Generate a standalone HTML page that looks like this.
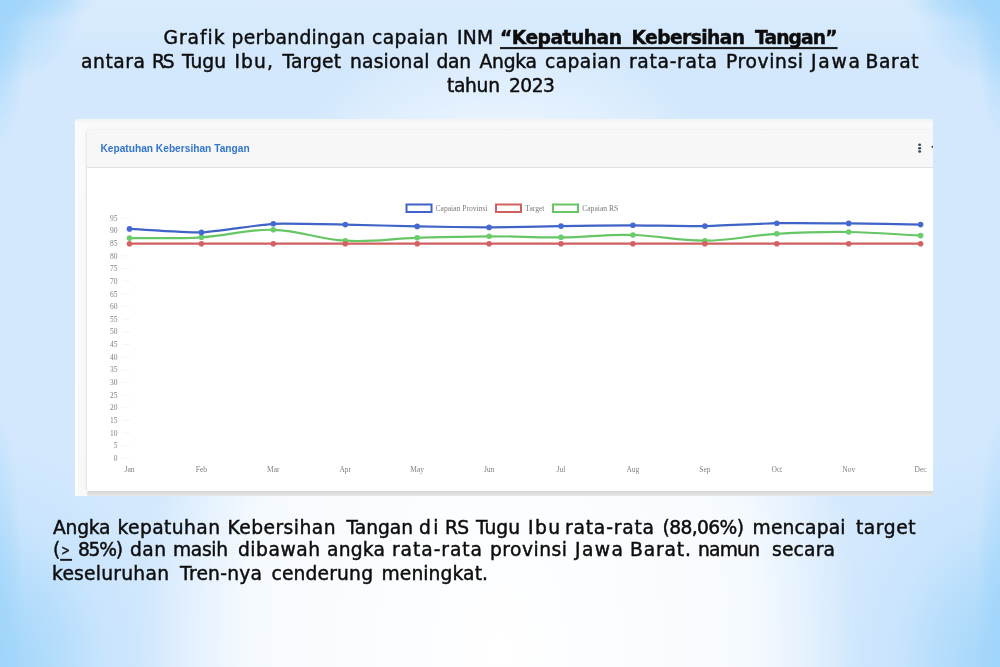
<!DOCTYPE html>
<html><head><meta charset="utf-8"><style>
html,body{margin:0;padding:0;}
body{width:1000px;height:667px;position:relative;overflow:hidden;
 background:
  radial-gradient(circle 85px at 0 0, rgba(160,213,250,1) 0%, rgba(160,213,250,0) 100%),
  radial-gradient(ellipse 28px 150px at 0 0, rgba(160,213,250,1) 0%, rgba(160,213,250,0) 100%),
  radial-gradient(ellipse 100px 25px at 0 0, rgba(160,213,250,1) 0%, rgba(160,213,250,0) 100%),
  radial-gradient(circle 85px at 100% 0, rgba(160,213,250,1) 0%, rgba(160,213,250,0) 100%),
  radial-gradient(ellipse 25px 140px at 100% 0, rgba(160,213,250,1) 0%, rgba(160,213,250,0) 100%),
  radial-gradient(ellipse 100px 25px at 100% 0, rgba(160,213,250,1) 0%, rgba(160,213,250,0) 100%),
  radial-gradient(ellipse 170px 230px at 0 100%, rgba(160,213,250,1) 0%, rgba(160,213,250,0.55) 38%, rgba(160,213,250,0.2) 62%, rgba(160,213,250,0.12) 76%, rgba(160,213,250,0.05) 90%, rgba(160,213,250,0) 100%),
  radial-gradient(ellipse 25px 260px at 0 100%, rgba(160,213,250,1) 0%, rgba(160,213,250,0.5) 50%, rgba(160,213,250,0) 100%),
  radial-gradient(ellipse 170px 230px at 100% 100%, rgba(160,213,250,1) 0%, rgba(160,213,250,0.55) 38%, rgba(160,213,250,0.2) 62%, rgba(160,213,250,0.12) 76%, rgba(160,213,250,0.05) 90%, rgba(160,213,250,0) 100%),
  radial-gradient(ellipse 25px 260px at 100% 100%, rgba(160,213,250,1) 0%, rgba(160,213,250,0.5) 50%, rgba(160,213,250,0) 100%),
  radial-gradient(ellipse 360px 640px at 500px 650px, rgba(255,255,255,1) 0%, rgba(255,255,255,.92) 23%, rgba(255,255,255,.85) 55%, rgba(255,255,255,.78) 70%, rgba(255,255,255,.4) 85%, rgba(255,255,255,.05) 97%, rgba(255,255,255,0) 100%),
  linear-gradient(to bottom, rgba(255,255,255,0.14) 0px, rgba(255,255,255,0) 60px),
  #d3e8fd;
 font-family:"DejaVu Sans","Liberation Sans",sans-serif;color:#111;}
.txt{position:absolute;left:0;top:0;}
.title{position:absolute;left:0;top:25px;width:1000px;text-align:center;font-size:18px;line-height:23.5px;}
.title u{font-weight:bold;text-decoration-thickness:1.5px;text-underline-offset:2px;}
.para{position:absolute;left:52px;top:514px;width:900px;font-size:18px;line-height:23.3px;}
.shot{position:absolute;left:75px;top:118.5px;width:858px;height:377.1px;overflow:hidden;background:linear-gradient(to bottom,#f2f2f2 0,#f6f6f6 2px,#fafafa 5px,#f8f8f8 100%);}
.shot .lw{position:absolute;left:0;top:0;width:3px;height:100%;background:linear-gradient(to bottom,#e8e8e8 0,#fdfdfd 3px,#fff 100%);}
.shot .bs{position:absolute;left:12px;top:372px;right:0;height:5.5px;border-radius:3px 0 0 3px;background:linear-gradient(to bottom,#dcdcdc 0,#dfdfdf 50%,#e6e6e6 100%);}
.card{position:absolute;left:11.8px;top:11.5px;width:900px;height:361px;background:#fff;border-radius:4px;
 box-shadow:-1px 0 2px rgba(0,0,0,0.07), 0 0 5px rgba(0,0,0,0.04);}
.hdr{position:absolute;left:0;top:0;right:0;height:37px;background:#f7f7f7;border-bottom:1px solid #e2e2e2;border-radius:5px 5px 0 0;}
.hdr .t{position:absolute;left:13.6px;top:13px;font:bold 10.2px "Liberation Sans",Arial,sans-serif;color:#3275cc;}
.chart text{font-family:"Liberation Serif",serif;}
</style></head><body>
<svg class="txt" width="1000" height="667" viewBox="0 0 1000 667" font-family="DejaVu Sans" font-size="18.7" fill="#0d0d0d" stroke="#0d0d0d" stroke-width="0.45" style="font-variant-ligatures:none"><text x="163.5" y="44.2" textLength="61.0" lengthAdjust="spacing">Grafik</text><text x="231.5" y="44.2" textLength="133.5" lengthAdjust="spacing">perbandingan</text><text x="372.0" y="44.2" textLength="76.0" lengthAdjust="spacing">capaian</text><text x="457.0" y="44.2" textLength="36.0" lengthAdjust="spacing">INM</text><text x="500.0" y="44.2" textLength="122.0" lengthAdjust="spacing" font-weight="bold">“Kepatuhan</text><text x="631.5" y="44.2" textLength="113.5" lengthAdjust="spacing" font-weight="bold">Kebersihan</text><text x="755.0" y="44.2" textLength="82.5" lengthAdjust="spacing" font-weight="bold">Tangan”</text><text x="81.0" y="67.5" textLength="64.0" lengthAdjust="spacing">antara</text><text x="152.0" y="67.5" textLength="22.5" lengthAdjust="spacing">RS</text><text x="182.0" y="67.5" textLength="44.0" lengthAdjust="spacing">Tugu</text><text x="234.5" y="67.5" textLength="38.5" lengthAdjust="spacing">Ibu,</text><text x="282.5" y="67.5" textLength="58.5" lengthAdjust="spacing">Target</text><text x="350.0" y="67.5" textLength="79.5" lengthAdjust="spacing">nasional</text><text x="436.5" y="67.5" textLength="34.5" lengthAdjust="spacing">dan</text><text x="479.5" y="67.5" textLength="57.5" lengthAdjust="spacing">Angka</text><text x="545.0" y="67.5" textLength="76.0" lengthAdjust="spacing">capaian</text><text x="629.0" y="67.5" textLength="88.0" lengthAdjust="spacing">rata-rata</text><text x="726.0" y="67.5" textLength="77.0" lengthAdjust="spacing">Provinsi</text><text x="811.0" y="67.5" textLength="49.0" lengthAdjust="spacing">Jawa</text><text x="865.5" y="67.5" textLength="53.0" lengthAdjust="spacing">Barat</text><text x="447.0" y="91.6" textLength="53.0" lengthAdjust="spacing">tahun</text><text x="509.0" y="91.6" textLength="46.0" lengthAdjust="spacing">2023</text><text x="53.0" y="533.5" textLength="57.5" lengthAdjust="spacing">Angka</text><text x="117.5" y="533.5" textLength="102.5" lengthAdjust="spacing">kepatuhan</text><text x="227.5" y="533.5" textLength="108.0" lengthAdjust="spacing">Kebersihan</text><text x="346.5" y="533.5" textLength="66.5" lengthAdjust="spacing">Tangan</text><text x="419.0" y="533.5" textLength="19.5" lengthAdjust="spacing">di</text><text x="445.0" y="533.5" textLength="24.0" lengthAdjust="spacing">RS</text><text x="476.0" y="533.5" textLength="44.0" lengthAdjust="spacing">Tugu</text><text x="528.0" y="533.5" textLength="32.0" lengthAdjust="spacing">Ibu</text><text x="565.0" y="533.5" textLength="89.0" lengthAdjust="spacing">rata-rata</text><text x="662.5" y="533.5" textLength="81.5" lengthAdjust="spacing">(88,06%)</text><text x="752.5" y="533.5" textLength="93.0" lengthAdjust="spacing">mencapai</text><text x="856.0" y="533.5" textLength="59.5" lengthAdjust="spacing">target</text><text x="53.0" y="556.2" textLength="9.0" lengthAdjust="spacing">(</text><text x="78.0" y="556.2" textLength="45.0" lengthAdjust="spacing">85%)</text><text x="130.0" y="556.2" textLength="36.0" lengthAdjust="spacing">dan</text><text x="173.0" y="556.2" textLength="55.0" lengthAdjust="spacing">masih</text><text x="238.0" y="556.2" textLength="82.0" lengthAdjust="spacing">dibawah</text><text x="327.0" y="556.2" textLength="58.0" lengthAdjust="spacing">angka</text><text x="392.0" y="556.2" textLength="90.0" lengthAdjust="spacing">rata-rata</text><text x="490.0" y="556.2" textLength="77.0" lengthAdjust="spacing">provinsi</text><text x="575.0" y="556.2" textLength="48.0" lengthAdjust="spacing">Jawa</text><text x="630.0" y="556.2" textLength="61.0" lengthAdjust="spacing">Barat.</text><text x="698.0" y="556.2" textLength="62.0" lengthAdjust="spacing">namun</text><text x="772.0" y="556.2" textLength="63.0" lengthAdjust="spacing">secara</text><text x="52.0" y="579.6" textLength="117.0" lengthAdjust="spacing">keseluruhan</text><text x="180.0" y="579.6" textLength="82.0" lengthAdjust="spacing">Tren-nya</text><text x="271.5" y="579.6" textLength="101.5" lengthAdjust="spacing">cenderung</text><text x="381.5" y="579.6" textLength="106.5" lengthAdjust="spacing">meningkat.</text><text x="61.3" y="555.2" font-size="13.5" textLength="8.6" lengthAdjust="spacingAndGlyphs">&gt;</text><rect x="500.2" y="47.2" width="337" height="1.7"/><rect x="60.4" y="559.1" width="11.4" height="1.5"/></svg>
<div class="shot">
 <div class="lw"></div><div class="bs"></div>
 <div class="card"><div class="hdr"><span class="t">Kepatuhan Kebersihan Tangan</span></div></div>
 <svg class="chart" style="position:absolute;left:-75px;top:-118.5px" width="1000" height="667" viewBox="0 0 1000 667">
  <g fill="#3a4757"><ellipse cx="919.6" cy="144.8" rx="1.5" ry="1.3"/><ellipse cx="919.6" cy="148.2" rx="1.5" ry="1.3"/><ellipse cx="919.6" cy="151.5" rx="1.5" ry="1.3"/></g>
  <circle cx="932.6" cy="146.8" r="1.1" fill="#3a4757"/>
  <g font-size="7.6" fill="#7a7a7a">
   <rect x="406.5" y="204.5" width="25" height="7.5" fill="none" stroke="#3f63c6" stroke-width="2"/>
   <text x="435.5" y="211">Capaian Provinsi</text>
   <rect x="496" y="204.5" width="25" height="7.5" fill="none" stroke="#d06060" stroke-width="2"/>
   <text x="525.3" y="211">Target</text>
   <rect x="553" y="204.5" width="25" height="7.5" fill="none" stroke="#66c666" stroke-width="2"/>
   <text x="582.2" y="211">Capaian RS</text>
  </g>
  <g font-size="7.5" fill="#808080"><text x="117.5" y="460.9" text-anchor="end">0</text><line x1="122" x2="130" y1="458.3" y2="458.3" stroke="#f5f5f5" stroke-width="1"/><text x="117.5" y="448.3" text-anchor="end">5</text><line x1="122" x2="130" y1="445.7" y2="445.7" stroke="#f5f5f5" stroke-width="1"/><text x="117.5" y="435.6" text-anchor="end">10</text><line x1="122" x2="130" y1="433.0" y2="433.0" stroke="#f5f5f5" stroke-width="1"/><text x="117.5" y="423.0" text-anchor="end">15</text><line x1="122" x2="130" y1="420.4" y2="420.4" stroke="#f5f5f5" stroke-width="1"/><text x="117.5" y="410.3" text-anchor="end">20</text><line x1="122" x2="130" y1="407.7" y2="407.7" stroke="#f5f5f5" stroke-width="1"/><text x="117.5" y="397.7" text-anchor="end">25</text><line x1="122" x2="130" y1="395.1" y2="395.1" stroke="#f5f5f5" stroke-width="1"/><text x="117.5" y="385.0" text-anchor="end">30</text><line x1="122" x2="130" y1="382.4" y2="382.4" stroke="#f5f5f5" stroke-width="1"/><text x="117.5" y="372.4" text-anchor="end">35</text><line x1="122" x2="130" y1="369.8" y2="369.8" stroke="#f5f5f5" stroke-width="1"/><text x="117.5" y="359.7" text-anchor="end">40</text><line x1="122" x2="130" y1="357.1" y2="357.1" stroke="#f5f5f5" stroke-width="1"/><text x="117.5" y="347.1" text-anchor="end">45</text><line x1="122" x2="130" y1="344.5" y2="344.5" stroke="#f5f5f5" stroke-width="1"/><text x="117.5" y="334.4" text-anchor="end">50</text><line x1="122" x2="130" y1="331.8" y2="331.8" stroke="#f5f5f5" stroke-width="1"/><text x="117.5" y="321.8" text-anchor="end">55</text><line x1="122" x2="130" y1="319.2" y2="319.2" stroke="#f5f5f5" stroke-width="1"/><text x="117.5" y="309.1" text-anchor="end">60</text><line x1="122" x2="130" y1="306.5" y2="306.5" stroke="#f5f5f5" stroke-width="1"/><text x="117.5" y="296.5" text-anchor="end">65</text><line x1="122" x2="130" y1="293.9" y2="293.9" stroke="#f5f5f5" stroke-width="1"/><text x="117.5" y="283.8" text-anchor="end">70</text><line x1="122" x2="130" y1="281.2" y2="281.2" stroke="#f5f5f5" stroke-width="1"/><text x="117.5" y="271.2" text-anchor="end">75</text><line x1="122" x2="130" y1="268.6" y2="268.6" stroke="#f5f5f5" stroke-width="1"/><text x="117.5" y="258.5" text-anchor="end">80</text><line x1="122" x2="130" y1="255.9" y2="255.9" stroke="#f5f5f5" stroke-width="1"/><text x="117.5" y="245.9" text-anchor="end">85</text><line x1="122" x2="130" y1="243.3" y2="243.3" stroke="#f5f5f5" stroke-width="1"/><text x="117.5" y="233.2" text-anchor="end">90</text><line x1="122" x2="130" y1="230.6" y2="230.6" stroke="#f5f5f5" stroke-width="1"/><text x="117.5" y="220.6" text-anchor="end">95</text><line x1="122" x2="130" y1="218.0" y2="218.0" stroke="#f5f5f5" stroke-width="1"/></g>
  <g font-size="7.5" fill="#808080"><text x="129.5" y="472" text-anchor="middle">Jan</text><text x="201.4" y="472" text-anchor="middle">Feb</text><text x="273.3" y="472" text-anchor="middle">Mar</text><text x="345.3" y="472" text-anchor="middle">Apr</text><text x="417.2" y="472" text-anchor="middle">May</text><text x="489.1" y="472" text-anchor="middle">Jun</text><text x="561.0" y="472" text-anchor="middle">Jul</text><text x="632.9" y="472" text-anchor="middle">Aug</text><text x="704.9" y="472" text-anchor="middle">Sep</text><text x="776.8" y="472" text-anchor="middle">Oct</text><text x="848.7" y="472" text-anchor="middle">Nov</text><text x="920.6" y="472" text-anchor="middle">Dec</text></g>
  <path d="M129.5 238.1 C158.3 237.8 172.7 239.0 201.4 237.3 C230.3 235.6 244.7 229.1 273.3 229.8 C302.2 230.5 316.3 239.1 345.3 240.7 C373.9 242.3 388.4 238.7 417.2 237.8 C445.9 236.9 460.3 236.4 489.1 236.3 C517.9 236.2 532.3 237.6 561.0 237.3 C589.8 237.0 604.2 234.3 632.9 235.0 C661.7 235.7 676.1 240.9 704.9 240.7 C733.6 240.5 748.0 235.5 776.8 233.8 C805.5 232.1 819.9 231.6 848.7 232.0 C877.5 232.4 891.9 234.2 920.6 235.6" fill="none" stroke="#66c666" stroke-width="2.2"/>
<circle cx="129.5" cy="238.1" r="2.8" fill="#6acc6a"/>
<circle cx="201.4" cy="237.3" r="2.8" fill="#6acc6a"/>
<circle cx="273.3" cy="229.8" r="2.8" fill="#6acc6a"/>
<circle cx="345.3" cy="240.7" r="2.8" fill="#6acc6a"/>
<circle cx="417.2" cy="237.8" r="2.8" fill="#6acc6a"/>
<circle cx="489.1" cy="236.3" r="2.8" fill="#6acc6a"/>
<circle cx="561.0" cy="237.3" r="2.8" fill="#6acc6a"/>
<circle cx="632.9" cy="235.0" r="2.8" fill="#6acc6a"/>
<circle cx="704.9" cy="240.7" r="2.8" fill="#6acc6a"/>
<circle cx="776.8" cy="233.8" r="2.8" fill="#6acc6a"/>
<circle cx="848.7" cy="232.0" r="2.8" fill="#6acc6a"/>
<circle cx="920.6" cy="235.6" r="2.8" fill="#6acc6a"/>
<path d="M129.5 243.7 C129.5 243.7 201.4 243.7 201.4 243.7 C201.4 243.7 273.3 243.7 273.3 243.7 C273.3 243.7 345.3 243.7 345.3 243.7 C345.3 243.7 417.2 243.7 417.2 243.7 C417.2 243.7 489.1 243.7 489.1 243.7 C489.1 243.7 561.0 243.7 561.0 243.7 C561.0 243.7 632.9 243.7 632.9 243.7 C632.9 243.7 704.9 243.7 704.9 243.7 C704.9 243.7 776.8 243.7 776.8 243.7 C776.8 243.7 848.7 243.7 848.7 243.7 C848.7 243.7 920.6 243.7 920.6 243.7" fill="none" stroke="#d06060" stroke-width="2.2"/>
<circle cx="129.5" cy="243.7" r="2.8" fill="#d46262"/>
<circle cx="201.4" cy="243.7" r="2.8" fill="#d46262"/>
<circle cx="273.3" cy="243.7" r="2.8" fill="#d46262"/>
<circle cx="345.3" cy="243.7" r="2.8" fill="#d46262"/>
<circle cx="417.2" cy="243.7" r="2.8" fill="#d46262"/>
<circle cx="489.1" cy="243.7" r="2.8" fill="#d46262"/>
<circle cx="561.0" cy="243.7" r="2.8" fill="#d46262"/>
<circle cx="632.9" cy="243.7" r="2.8" fill="#d46262"/>
<circle cx="704.9" cy="243.7" r="2.8" fill="#d46262"/>
<circle cx="776.8" cy="243.7" r="2.8" fill="#d46262"/>
<circle cx="848.7" cy="243.7" r="2.8" fill="#d46262"/>
<circle cx="920.6" cy="243.7" r="2.8" fill="#d46262"/>
<path d="M129.5 228.9 C140.3 229.4 190.7 232.8 201.4 232.4 C212.2 232.0 262.5 224.4 273.3 223.8 C284.1 223.2 334.5 224.4 345.3 224.6 C356.0 224.8 406.4 226.2 417.2 226.4 C428.0 226.6 478.3 227.4 489.1 227.4 C499.9 227.4 550.2 226.3 561.0 226.1 C571.8 225.9 622.2 225.3 632.9 225.3 C643.7 225.3 694.1 226.3 704.9 226.1 C715.7 225.9 766.0 223.4 776.8 223.2 C787.6 223.0 837.9 223.3 848.7 223.4 C859.5 223.5 909.8 224.4 920.6 224.6" fill="none" stroke="#3f63c6" stroke-width="2.2"/>
<circle cx="129.5" cy="228.9" r="2.8" fill="#4569d0"/>
<circle cx="201.4" cy="232.4" r="2.8" fill="#4569d0"/>
<circle cx="273.3" cy="223.8" r="2.8" fill="#4569d0"/>
<circle cx="345.3" cy="224.6" r="2.8" fill="#4569d0"/>
<circle cx="417.2" cy="226.4" r="2.8" fill="#4569d0"/>
<circle cx="489.1" cy="227.4" r="2.8" fill="#4569d0"/>
<circle cx="561.0" cy="226.1" r="2.8" fill="#4569d0"/>
<circle cx="632.9" cy="225.3" r="2.8" fill="#4569d0"/>
<circle cx="704.9" cy="226.1" r="2.8" fill="#4569d0"/>
<circle cx="776.8" cy="223.2" r="2.8" fill="#4569d0"/>
<circle cx="848.7" cy="223.4" r="2.8" fill="#4569d0"/>
<circle cx="920.6" cy="224.6" r="2.8" fill="#4569d0"/>

 </svg>
</div>

</body></html>
